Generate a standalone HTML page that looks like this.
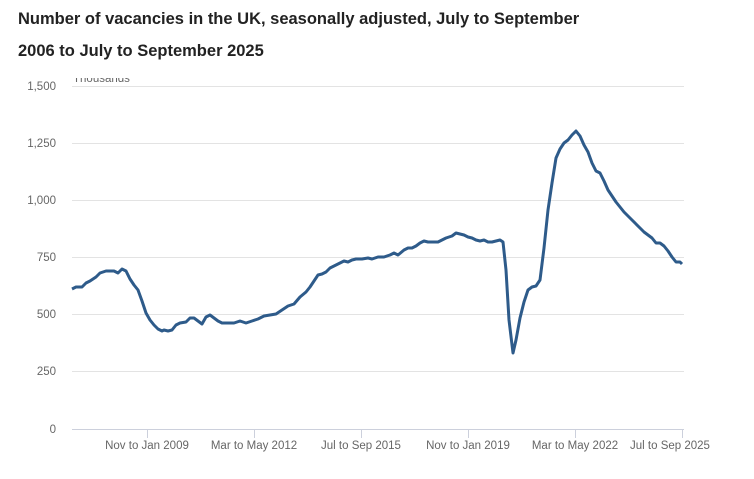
<!DOCTYPE html>
<html><head><meta charset="utf-8"><style>
html,body{margin:0;padding:0;background:#fff;}
body{width:754px;height:479px;overflow:hidden;position:relative;font-family:"Liberation Sans",sans-serif;}
.t{position:absolute;left:18px;font-weight:bold;font-size:16.5px;color:#222;white-space:nowrap;}
</style></head><body>
<div class="t" style="top:10px">Number of vacancies in the UK, seasonally adjusted, July to September</div>
<div class="t" style="top:42px">2006 to July to September 2025</div>
<svg width="754" height="479" style="position:absolute;left:0;top:0" font-family="Liberation Sans, sans-serif">
<text x="73" y="82" font-size="11.5" fill="#666">Thousands</text>
<rect x="70" y="70" width="80" height="8" fill="#fff"/>
<g stroke="#e3e3e3" stroke-width="1">
<line x1="72" x2="684" y1="86.5" y2="86.5"/><line x1="72" x2="684" y1="143.5" y2="143.5"/>
<line x1="72" x2="684" y1="200.5" y2="200.5"/><line x1="72" x2="684" y1="257.5" y2="257.5"/>
<line x1="72" x2="684" y1="314.5" y2="314.5"/><line x1="72" x2="684" y1="371.5" y2="371.5"/>
</g>
<g stroke="#ccd0dc" stroke-width="1">
<line x1="72" x2="684" y1="429.5" y2="429.5"/>
<line x1="147.5" x2="147.5" y1="429" y2="438"/><line x1="254.5" x2="254.5" y1="429" y2="438"/>
<line x1="361.5" x2="361.5" y1="429" y2="438"/><line x1="468.5" x2="468.5" y1="429" y2="438"/>
<line x1="575.5" x2="575.5" y1="429" y2="438"/><line x1="682.5" x2="682.5" y1="429" y2="438"/>
</g>
<g font-size="11.5" fill="#666" text-anchor="end">
<text x="56" y="90">1,500</text><text x="56" y="147">1,250</text><text x="56" y="204">1,000</text>
<text x="56" y="261">750</text><text x="56" y="318">500</text><text x="56" y="375">250</text><text x="56" y="433">0</text>
</g>
<g font-size="11.5" fill="#666" text-anchor="middle">
<text x="147" y="449">Nov to Jan 2009</text><text x="254" y="449">Mar to May 2012</text>
<text x="361" y="449">Jul to Sep 2015</text><text x="468" y="449">Nov to Jan 2019</text>
<text x="575" y="449">Mar to May 2022</text><text x="670" y="449">Jul to Sep 2025</text>
</g>
<polyline fill="none" stroke="#2e5b8a" stroke-width="3" stroke-linejoin="round" points="72,289 76,287 82,287 86,283 90,281 96,277 100,273 106,271 110,271 114,271 118,273 122,269 126,271 130,279 134,285 138,290 142,301 146,313 150,320 154,325 158,329 162,331 164,330 168,331 172,330 176,325 180,323 186,322 190,318 194,318 198,321 202,324 206,317 210,315 214,318 218,321 222,323 228,323 234,323 240,321 246,323 252,321 258,319 264,316 270,315 276,314 282,310 288,306 294,304 300,297 306,292 310,287 314,281 318,275 322,274 326,272 330,268 336,265 340,263 344,261 348,262 352,260 356,259 362,259 368,258 372,259 378,257 384,257 390,255 394,253 398,255 404,250 408,248 412,248 416,246 420,243 424,241 428,242 434,242 438,242 442,240 446,238 452,236 456,233 460,234 464,235 468,237 472,238 476,240 480,241 484,240 488,242 492,242 496,241 500,240 503,242 506,270 509,320 513,353 516,340 520,318 524,302 528,290 532,287 536,286 540,280 544,248 548,210 552,183 556,158 560,149 564,143 568,140 572,135 576,131 580,136 584,145 588,152 592,163 596,171 600,173 604,181 608,190 612,196 616,202 620,207 624,212 628,216 632,220 636,224 640,228 644,232 648,235 652,238 656,243 660,243 664,246 668,251 672,257 676,262 680,262 682,264"/>
</svg>
</body></html>
